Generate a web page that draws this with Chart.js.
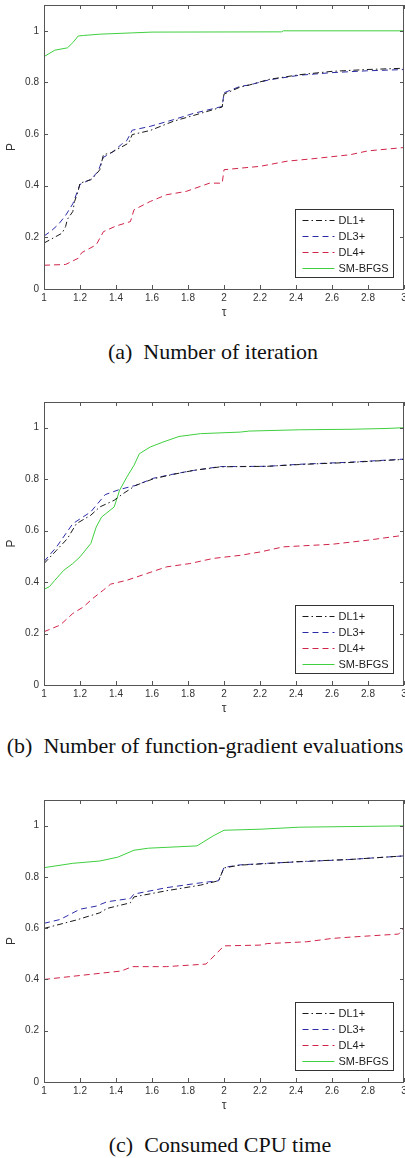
<!DOCTYPE html>
<html>
<head>
<meta charset="utf-8">
<script src="https://cdn.jsdelivr.net/npm/chart.js@4.4.1/dist/chart.umd.min.js"></script>
<style>
  html, body { margin: 0; padding: 0; background: #fff; }
  body { position: relative; width: 405px; height: 1158px; overflow: hidden; }
  canvas { position: absolute; left: 0; }
  .cap { position: absolute; font-family: 'Liberation Serif', 'Times New Roman', serif; font-size: 22px; color: #111; white-space: pre; transform: translateX(-50%); line-height: 1; }
</style>
</head>
<body>
<canvas id="chartA" width="420" height="330" style="top:0px"></canvas>
<div class="cap" style="left:213px; top:341px">(a)  Number of iteration</div>
<canvas id="chartB" width="420" height="329" style="top:397px"></canvas>
<div class="cap" style="left:205px; top:735px">(b)  Number of function-gradient evaluations</div>
<canvas id="chartC" width="420" height="328" style="top:795px"></canvas>
<div class="cap" style="left:220px; top:1134px">(c)  Consumed CPU time</div>
<script>
// axis ticks
const xTicks = [1, 1.2, 1.4, 1.6, 1.8, 2, 2.2, 2.4, 2.6, 2.8, 3];
const xTickLabels = ['1', '1.2', '1.4', '1.6', '1.8', '2', '2.2', '2.4', '2.6', '2.8', '3'];
const yTicks = [0, 0.2, 0.4, 0.6, 0.8, 1];
const yTickLabels = ['0', '0.2', '0.4', '0.6', '0.8', '1'];
const seriesNames = ['DL1+', 'DL3+', 'DL4+', 'SM-BFGS'];

// (a) number of iteration
const iterDL1Tau = [1, 1.05, 1.1, 1.12, 1.13, 1.16, 1.17, 1.19, 1.2, 1.26, 1.28, 1.31, 1.33, 1.37, 1.42, 1.47, 1.49, 1.59, 1.72, 1.83, 1.99, 2.0, 2.09, 2.14, 2.25, 2.42, 2.6, 2.79, 3];
const iterDL1P   = [0.178, 0.197, 0.216, 0.242, 0.27, 0.30, 0.339, 0.38, 0.41, 0.423, 0.436, 0.462, 0.52, 0.527, 0.546, 0.565, 0.598, 0.614, 0.65, 0.672, 0.705, 0.755, 0.782, 0.79, 0.812, 0.83, 0.843, 0.85, 0.855];
const iterDL3Tau = [1, 1.04, 1.08, 1.12, 1.16, 1.2, 1.26, 1.3, 1.33, 1.38, 1.43, 1.46, 1.49, 1.59, 1.72, 1.83, 1.99, 2.0, 2.09, 2.14, 2.25, 2.42, 2.6, 2.79, 3];
const iterDL3P   = [0.205, 0.225, 0.25, 0.285, 0.33, 0.405, 0.425, 0.455, 0.51, 0.53, 0.56, 0.575, 0.615, 0.63, 0.656, 0.68, 0.707, 0.76, 0.785, 0.79, 0.81, 0.828, 0.838, 0.845, 0.85];
const iterDL4Tau = [1, 1.12, 1.19, 1.21, 1.29, 1.33, 1.4, 1.48, 1.5, 1.59, 1.68, 1.79, 1.92, 1.99, 2.0, 2.09, 2.2, 2.35, 2.5, 2.7, 2.8, 3];
const iterDL4P   = [0.092, 0.095, 0.119, 0.141, 0.171, 0.222, 0.244, 0.261, 0.307, 0.339, 0.365, 0.378, 0.41, 0.41, 0.462, 0.468, 0.475, 0.495, 0.505, 0.52, 0.535, 0.548];
const iterSMTau  = [1, 1.06, 1.13, 1.16, 1.19, 1.22, 1.31, 1.49, 1.6, 2.32, 2.33, 3];
const iterSMP    = [0.90, 0.925, 0.934, 0.954, 0.98, 0.982, 0.987, 0.992, 0.995, 0.996, 1.0, 1.0];

// (b) number of function-gradient evaluations
const evalDL1Tau = [1, 1.07, 1.13, 1.18, 1.26, 1.31, 1.39, 1.44, 1.51, 1.61, 1.72, 1.83, 1.98, 2.24, 2.42, 2.7, 3];
const evalDL1P   = [0.472, 0.524, 0.569, 0.627, 0.66, 0.692, 0.718, 0.744, 0.776, 0.802, 0.819, 0.834, 0.848, 0.85, 0.857, 0.865, 0.877];
const evalDL3Tau = [1, 1.07, 1.16, 1.26, 1.34, 1.42, 1.51, 1.61, 1.72, 1.83, 1.98, 2.24, 2.42, 2.7, 3];
const evalDL3P   = [0.48, 0.537, 0.627, 0.673, 0.74, 0.76, 0.776, 0.804, 0.82, 0.834, 0.849, 0.85, 0.858, 0.866, 0.878];
const evalDL4Tau = [1, 1.09, 1.16, 1.22, 1.27, 1.33, 1.37, 1.46, 1.57, 1.68, 1.81, 1.94, 2.09, 2.2, 2.33, 2.6, 2.8, 3];
const evalDL4P   = [0.207, 0.233, 0.278, 0.304, 0.336, 0.369, 0.392, 0.407, 0.433, 0.459, 0.472, 0.492, 0.504, 0.517, 0.537, 0.547, 0.563, 0.582];
const evalSMTau  = [1, 1.03, 1.06, 1.11, 1.16, 1.2, 1.26, 1.29, 1.32, 1.39, 1.42, 1.46, 1.5, 1.53, 1.59, 1.66, 1.75, 1.87, 2.09, 2.14, 2.42, 2.7, 2.9, 3];
const evalSMP    = [0.372, 0.382, 0.407, 0.446, 0.472, 0.498, 0.55, 0.614, 0.653, 0.692, 0.757, 0.808, 0.854, 0.899, 0.925, 0.944, 0.966, 0.977, 0.983, 0.987, 0.992, 0.994, 0.997, 1.0];

// (c) consumed CPU time
const cpuDL1Tau = [1, 1.18, 1.31, 1.35, 1.48, 1.5, 1.68, 1.87, 1.97, 2.0, 2.09, 2.24, 2.42, 2.7, 3];
const cpuDL1P   = [0.599, 0.632, 0.66, 0.677, 0.699, 0.722, 0.746, 0.768, 0.785, 0.835, 0.846, 0.852, 0.86, 0.868, 0.882];
const cpuDL3Tau = [1, 1.09, 1.2, 1.29, 1.35, 1.48, 1.5, 1.68, 1.87, 1.97, 2.0, 2.09, 2.24, 2.42, 2.7, 3];
const cpuDL3P   = [0.619, 0.634, 0.674, 0.686, 0.703, 0.716, 0.733, 0.758, 0.777, 0.785, 0.837, 0.847, 0.853, 0.859, 0.868, 0.882];
const cpuDL4Tau = [1, 1.22, 1.43, 1.49, 1.68, 1.9, 2.0, 2.2, 2.24, 2.46, 2.6, 2.72, 2.97, 3];
const cpuDL4P   = [0.40, 0.417, 0.433, 0.45, 0.45, 0.46, 0.531, 0.534, 0.54, 0.547, 0.56, 0.566, 0.577, 0.60];
const cpuSMTau  = [1, 1.16, 1.31, 1.41, 1.5, 1.58, 1.85, 1.94, 2.0, 2.2, 2.42, 3];
const cpuSMP    = [0.836, 0.853, 0.862, 0.877, 0.904, 0.912, 0.921, 0.96, 0.982, 0.986, 0.994, 0.999];

// line styles (matlab k-. b-- r-- g-)
const styles = [
    { color: '#1a1a1a', dash: [6, 3, 1.5, 3] },
    { color: '#2b2ba8', dash: [6, 4] },
    { color: '#d02448', dash: [6, 4] },
    { color: '#3fcf3f', dash: [] }
];

const sansFont = "'Liberation Sans', Arial, sans-serif";

function pts(tau, p) {
    return tau.map((t, i) => ({ x: t, y: p[i] }));
}

// box round the axes with inward ticks, like matlab
const framePlugin = {
    id: 'frame',
    afterDraw(chart) {
        const { ctx, chartArea: a, scales } = chart;
        ctx.save();
        ctx.strokeStyle = '#555';
        ctx.lineWidth = 1;
        ctx.setLineDash([]);
        ctx.strokeRect(Math.round(a.left) + 0.5, Math.round(a.top) + 0.5,
            Math.round(a.right - a.left) - 1, Math.round(a.bottom - a.top));
        ctx.beginPath();
        xTicks.forEach(v => {
            const px = Math.round(scales.x.getPixelForValue(v)) + 0.5;
            ctx.moveTo(px, a.bottom); ctx.lineTo(px, a.bottom - 4);
            ctx.moveTo(px, a.top); ctx.lineTo(px, a.top + 4);
        });
        yTicks.forEach(v => {
            const py = Math.round(scales.y.getPixelForValue(v)) + 0.5;
            ctx.moveTo(a.left, py); ctx.lineTo(a.left + 4, py);
            ctx.moveTo(a.right, py); ctx.lineTo(a.right - 4, py);
        });
        ctx.stroke();
        ctx.restore();
    }
};

// legend box inside the lower right corner
const boxLegendPlugin = {
    id: 'boxLegend',
    afterDraw(chart) {
        const { ctx, chartArea: a } = chart;
        const w = 98, h = 68;
        const left = Math.round(a.right - 11 - w) + 0.5;
        const top = Math.round(a.bottom - 12 - h) + 0.5;
        ctx.save();
        ctx.fillStyle = '#fff';
        ctx.fillRect(left, top, w, h);
        ctx.strokeStyle = '#333';
        ctx.lineWidth = 1;
        ctx.setLineDash([]);
        ctx.strokeRect(left, top, w, h);
        ctx.font = '11px ' + sansFont;
        ctx.textBaseline = 'middle';
        ctx.textAlign = 'left';
        chart.data.datasets.forEach((ds, i) => {
            const y = Math.round(top + 10 + i * 16) + 0.5;
            ctx.strokeStyle = ds.borderColor;
            ctx.setLineDash(ds.borderDash);
            ctx.beginPath();
            ctx.moveTo(left + 7, y);
            ctx.lineTo(left + 39, y);
            ctx.stroke();
            ctx.fillStyle = '#222';
            ctx.fillText(ds.label, left + 43, y);
        });
        ctx.restore();
    }
};

function makePanel(id, series) {
    const datasets = series.map((s, i) => ({
        label: seriesNames[i],
        data: pts(s[0], s[1]),
        borderColor: styles[i].color,
        borderDash: styles[i].dash,
        borderWidth: 1,
        pointRadius: 0,
        fill: false,
        tension: 0
    }));
    return new Chart(document.getElementById(id), {
        type: 'line',
        data: { datasets },
        options: {
            responsive: false,
            animation: false,
            devicePixelRatio: 1,
            layout: { padding: { top: 5, right: 16, bottom: 0, left: 0 } },
            plugins: { legend: { display: false }, tooltip: { enabled: false } },
            scales: {
                x: {
                    type: 'linear', min: 1, max: 3,
                    grid: { display: false, drawTicks: false },
                    border: { display: false },
                    afterBuildTicks: sc => { sc.ticks = xTicks.map(v => ({ value: v })); },
                    afterFit: sc => { sc.height = 41; sc.paddingLeft = 0; sc.paddingRight = 0; },
                    ticks: { padding: 3, color: '#333', font: { family: sansFont, size: 10 }, maxRotation: 0, autoSkip: false,
                        callback: (v, i) => xTickLabels[i] },
                    title: { display: true, text: 'τ', color: '#333', font: { family: sansFont, size: 12 }, padding: { top: 0, bottom: 10 } }
                },
                y: {
                    type: 'linear', min: 0, max: 1.1,
                    grid: { display: false, drawTicks: false },
                    border: { display: false },
                    afterBuildTicks: sc => { sc.ticks = yTicks.map(v => ({ value: v })); },
                    afterFit: sc => { sc.width = 44; sc.paddingTop = 0; sc.paddingBottom = 0; },
                    ticks: { padding: 5, color: '#333', font: { family: sansFont, size: 10 }, autoSkip: false,
                        callback: (v, i) => yTickLabels[i] },
                    title: { display: true, text: 'P', color: '#333', font: { family: sansFont, size: 12 }, padding: { top: 4, bottom: 0 } }
                }
            }
        },
        plugins: [framePlugin, boxLegendPlugin]
    });
}

makePanel('chartA', [[iterDL1Tau, iterDL1P], [iterDL3Tau, iterDL3P], [iterDL4Tau, iterDL4P], [iterSMTau, iterSMP]]);
makePanel('chartB', [[evalDL1Tau, evalDL1P], [evalDL3Tau, evalDL3P], [evalDL4Tau, evalDL4P], [evalSMTau, evalSMP]]);
makePanel('chartC', [[cpuDL1Tau, cpuDL1P], [cpuDL3Tau, cpuDL3P], [cpuDL4Tau, cpuDL4P], [cpuSMTau, cpuSMP]]);
</script>
</body>
</html>
